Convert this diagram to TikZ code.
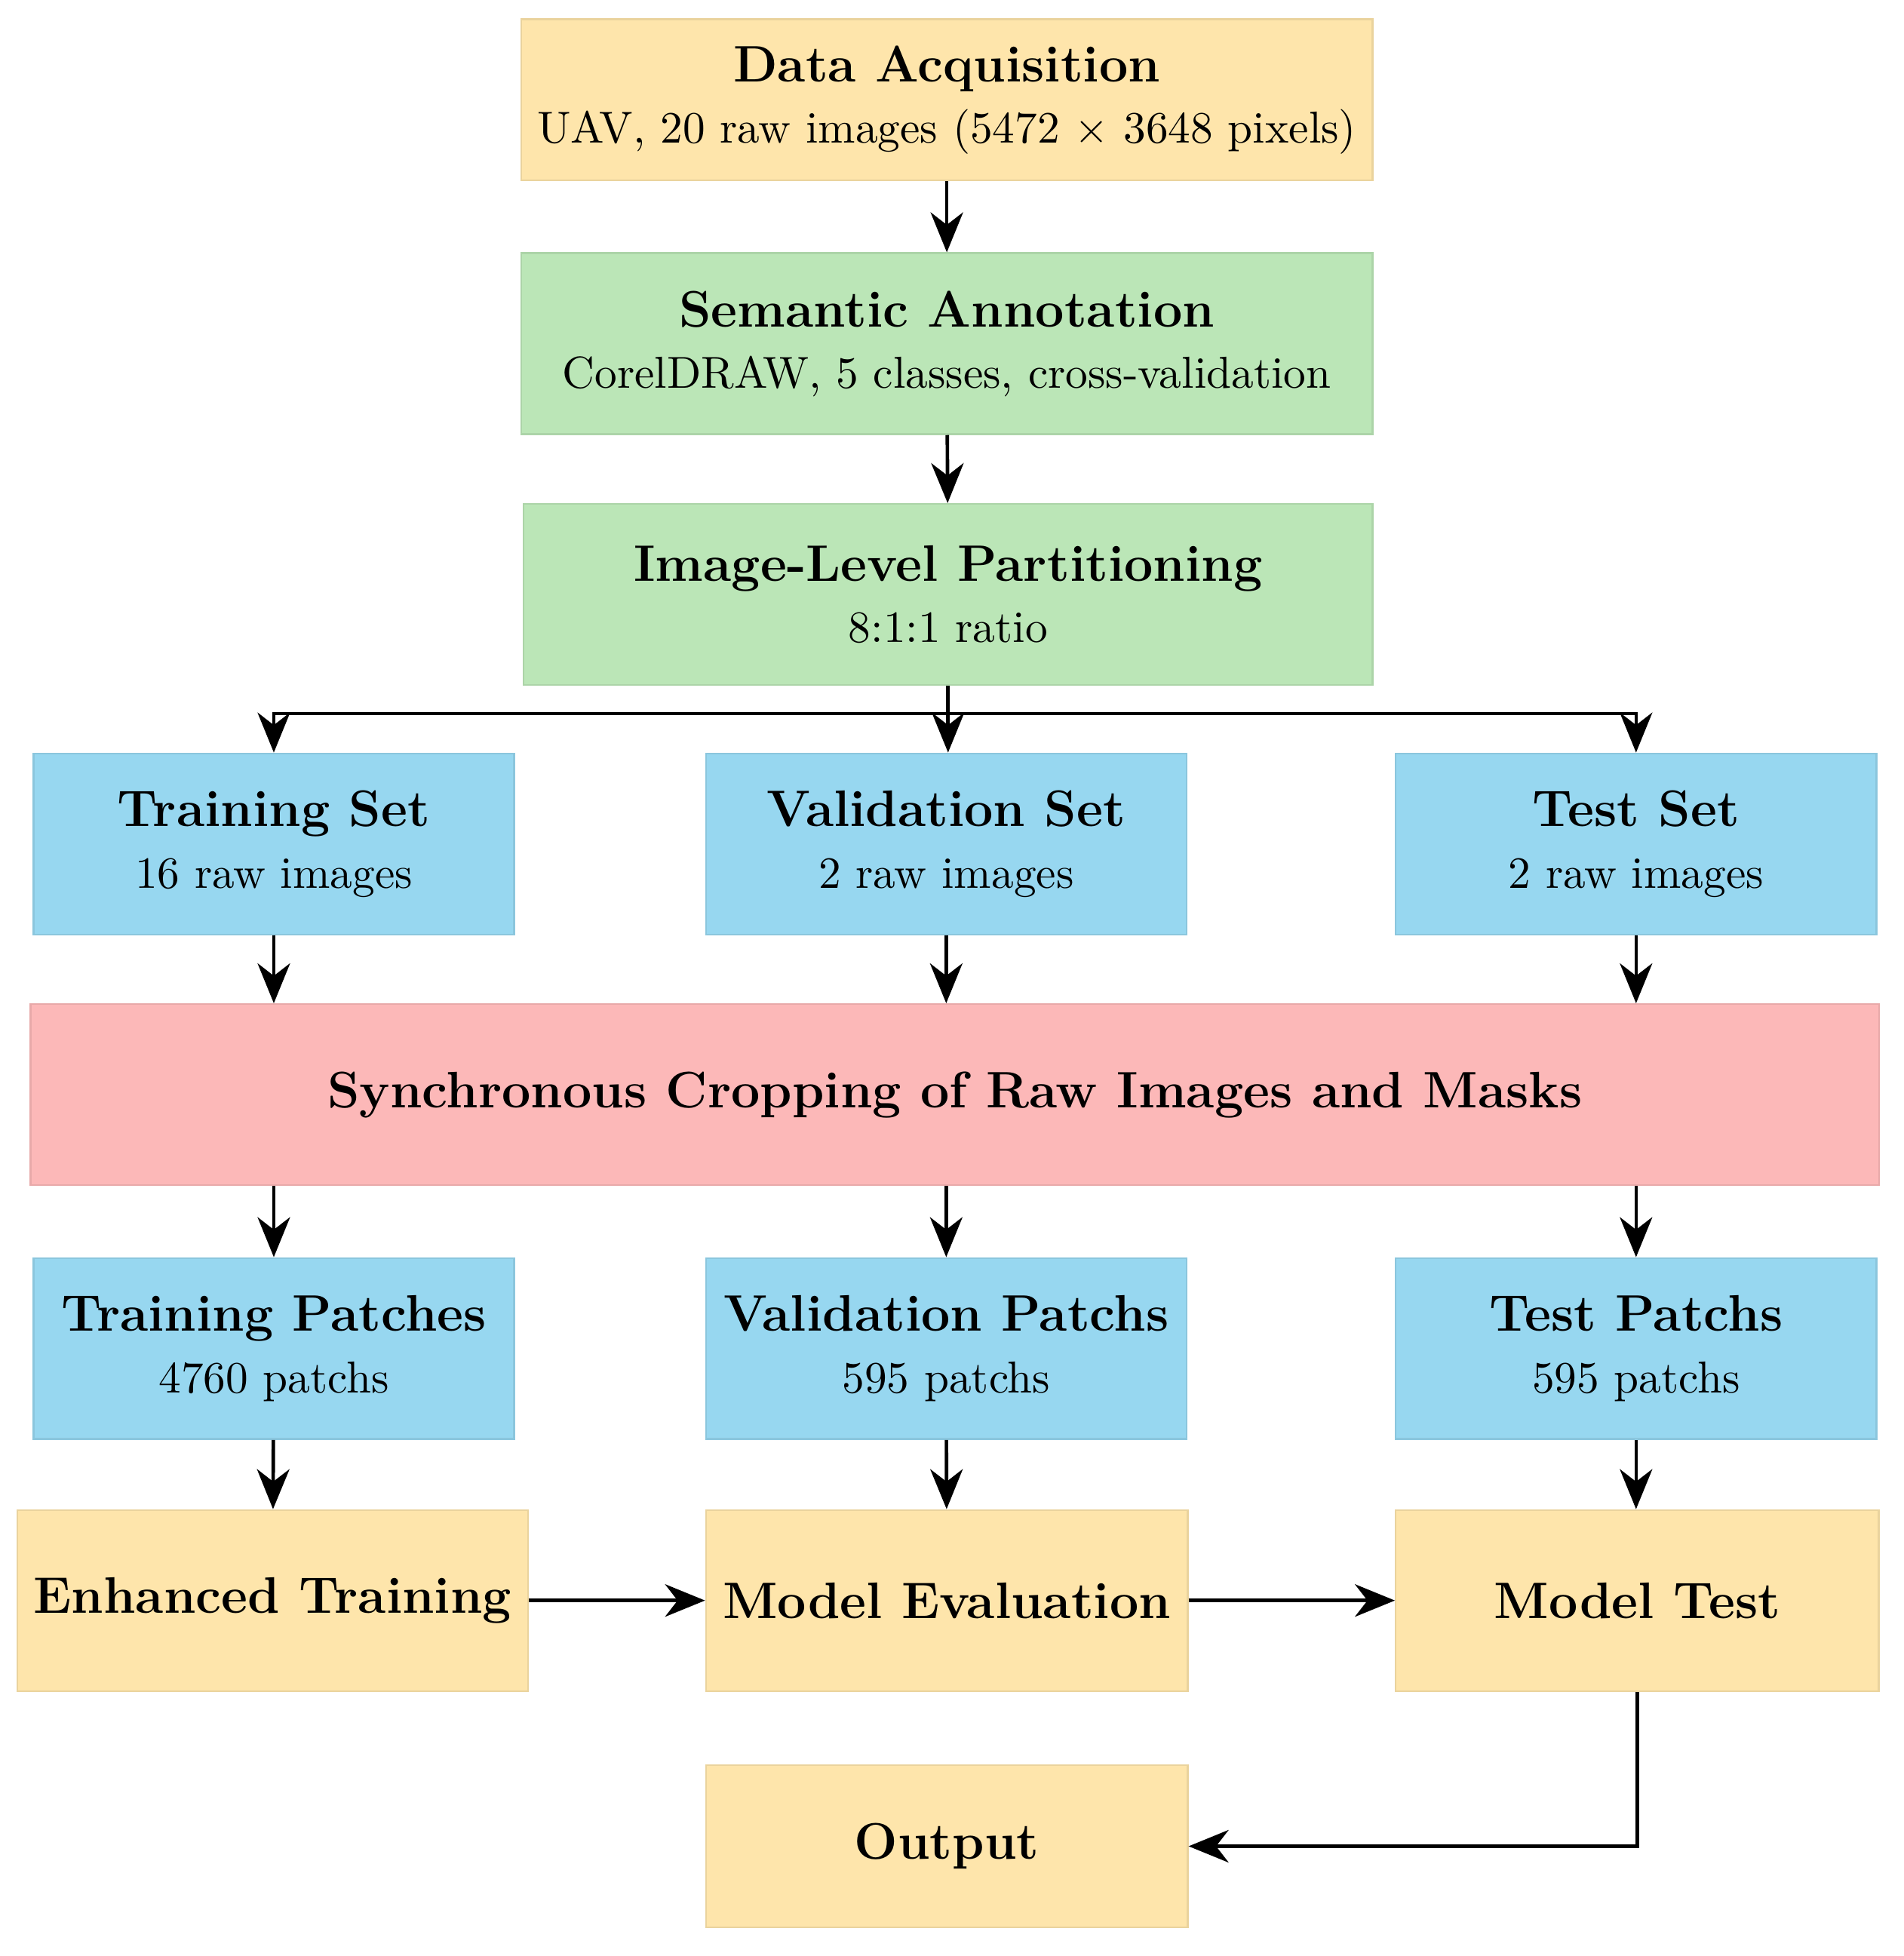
\documentclass[tikz,border=0pt]{standalone}
\usetikzlibrary{arrows.meta}

\definecolor{boxyellow}{HTML}{FEE5AB}
\definecolor{boxgreen}{HTML}{BBE6B7}
\definecolor{boxblue}{HTML}{97D7F0}
\definecolor{boxpink}{HTML}{FCB8B8}
\newcommand{\hd}[1]{{\fontsize{11.7}{14}\selectfont\bfseries #1}}

\begin{document}
\begin{tikzpicture}[x=0.01cm, y=-0.01cm,
  stage/.style={fill=#1, draw=#1!92!black, line width=0.4pt, inner sep=0pt,
    align=center, font=\fontsize{10.2}{14}\selectfont, minimum height=1.45cm},
  arr/.style={line width=0.8pt, -{Stealth[length=3.2mm, width=2.6mm, inset=1mm]}}]
  \useasboundingbox (0,0) rectangle (1526,1568);
  % top chain
  \node[stage=boxyellow, minimum width=6.82cm, minimum height=1.29cm] (acq) at (759,80)
    {\hd{Data Acquisition}\\UAV, 20 raw images (5472 $\times$ 3648 pixels)};
  \node[stage=boxgreen, minimum width=6.82cm] (ann) at (759,275.5)
    {\hd{Semantic Annotation}\\CorelDRAW, 5 classes, cross-validation};
  \node[stage=boxgreen, minimum width=6.80cm] (part) at (760,476.5)
    {\hd{Image-Level Partitioning}\\8:1:1 ratio};
  \coordinate (split) at (760,572);
  % the three sets
  \node[stage=boxblue, minimum width=3.85cm] (trainset) at (219.5,676.5)
    {\hd{Training Set}\\16 raw images};
  \node[stage=boxblue, minimum width=3.85cm] (valset) at (758.5,676.5)
    {\hd{Validation Set}\\2 raw images};
  \node[stage=boxblue, minimum width=3.85cm] (testset) at (1311.5,676.5)
    {\hd{Test Set}\\2 raw images};
  \node[stage=boxpink, minimum width=14.81cm] (crop) at (765.5,877.5)
    {\hd{Synchronous Cropping of Raw Images and Masks}};
  % patches
  \node[stage=boxblue, minimum width=3.85cm] (trainp) at (219.5,1081)
    {\hd{Training Patches}\\4760 patchs};
  \node[stage=boxblue, minimum width=3.85cm] (valp) at (758.5,1081)
    {\hd{Validation Patchs}\\595 patchs};
  \node[stage=boxblue, minimum width=3.85cm] (testp) at (1311.5,1081)
    {\hd{Test Patchs}\\595 patchs};
  % model stages
  \node[stage=boxyellow, minimum width=4.09cm] (enh) at (218.5,1283)
    {\hd{Enhanced Training}};
  \node[stage=boxyellow, minimum width=3.86cm] (eval) at (759,1283)
    {\hd{Model Evaluation}};
  \node[stage=boxyellow, minimum width=3.87cm] (mtest) at (1312.5,1283)
    {\hd{Model Test}};
  \node[stage=boxyellow, minimum width=3.86cm, minimum height=1.30cm] (out) at (759,1480)
    {\hd{Output}};

  \draw[arr] (acq) -- (ann);
  \draw[arr] (ann) -- (part);
  \draw[line width=0.8pt] (part.south) -- (split);
  \draw[arr] (split) -| (trainset.north);
  \draw[arr] (split) -- (split |- valset.north);
  \draw[arr] (split) -| (testset.north);
  \foreach \s in {trainset,valset,testset}
    \draw[arr] (\s.south) -- (\s.south |- crop.north);
  \foreach \p in {trainp,valp,testp}
    \draw[arr] (crop.south -| \p.north) -- (\p.north);
  \draw[arr] (trainp) -- (enh);
  \draw[arr] (valp) -- (eval);
  \draw[arr] (testp) -- (testp |- mtest.north);
  \draw[arr] (enh) -- (eval);
  \draw[arr] (eval) -- (mtest);
  \draw[arr] (mtest.south) |- (out.east);
\end{tikzpicture}
\end{document}
